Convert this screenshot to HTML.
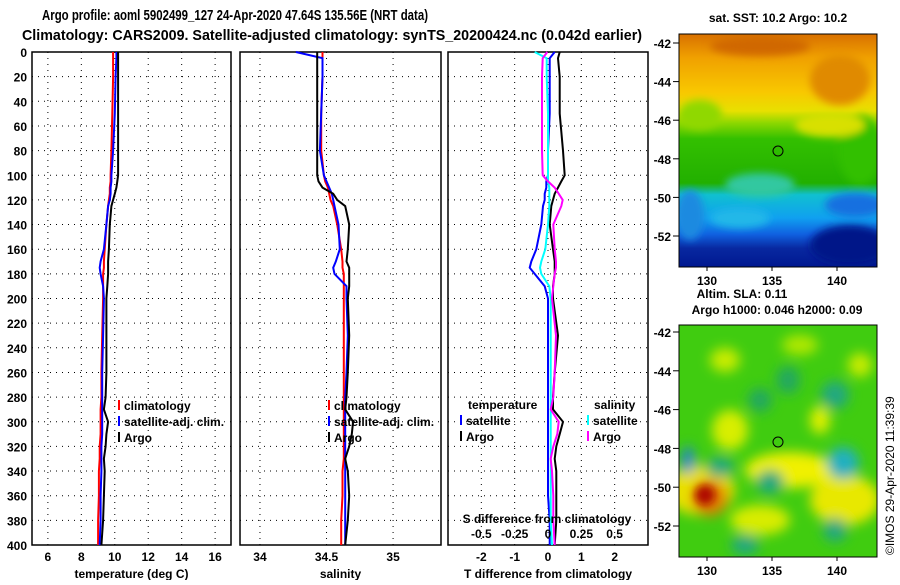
<!DOCTYPE html>
<html><head><meta charset="utf-8"><style>
body{margin:0;background:#fff;}
svg text{font-family:"Liberation Sans",sans-serif;font-weight:bold;fill:#000;}
</style></head><body>
<svg id="root" width="900" height="580" xmlns="http://www.w3.org/2000/svg">
<defs>
<filter id="bl" x="-50%" y="-50%" width="200%" height="200%"><feGaussianBlur stdDeviation="6"/></filter>
<filter id="bl2" x="-50%" y="-50%" width="200%" height="200%"><feGaussianBlur stdDeviation="4"/></filter>
<clipPath id="c1"><rect x="679" y="34" width="198" height="233"/></clipPath>
<clipPath id="c2"><rect x="679" y="325" width="198" height="232"/></clipPath>
<linearGradient id="sstg" x1="0" y1="0" x2="0" y2="1">
<stop offset="0" stop-color="#d87000"/><stop offset="0.1" stop-color="#f0a000"/><stop offset="0.25" stop-color="#f8c800"/>
<stop offset="0.33" stop-color="#e8e000"/><stop offset="0.38" stop-color="#90d800"/><stop offset="0.45" stop-color="#33c000"/>
<stop offset="0.64" stop-color="#22b000"/><stop offset="0.69" stop-color="#10c0d0"/><stop offset="0.79" stop-color="#10a0f0"/>
<stop offset="0.86" stop-color="#1060e0"/><stop offset="0.92" stop-color="#0828a0"/><stop offset="1" stop-color="#001890"/>
</linearGradient>
</defs>
<text x="42" y="20" font-size="15" textLength="386" lengthAdjust="spacingAndGlyphs">Argo profile: aoml 5902499_127 24-Apr-2020 47.64S 135.56E (NRT data)</text>
<text x="22" y="40" font-size="15" textLength="620" lengthAdjust="spacingAndGlyphs">Climatology: CARS2009. Satellite-adjusted climatology: synTS_20200424.nc (0.042d earlier)</text>
<g id="plots"></g>
<!-- SST map -->
<g clip-path="url(#c1)">
<rect x="679" y="34" width="198" height="233" fill="url(#sstg)"/>
<g filter="url(#bl2)">
<ellipse cx="840" cy="80" rx="30" ry="25" fill="#e08a00"/>
<ellipse cx="760" cy="46" rx="50" ry="10" fill="#d06800"/>
<ellipse cx="860" cy="150" rx="22" ry="35" fill="#30c000"/>
<ellipse cx="700" cy="115" rx="22" ry="15" fill="#90d800"/>
<ellipse cx="830" cy="125" rx="35" ry="12" fill="#d8e000"/>
<ellipse cx="760" cy="185" rx="35" ry="12" fill="#30c8a0"/>
<ellipse cx="855" cy="205" rx="30" ry="12" fill="#1870e0"/>
<ellipse cx="690" cy="215" rx="14" ry="25" fill="#1a8ae0"/>
<ellipse cx="740" cy="218" rx="30" ry="10" fill="#20b8e8"/>
<ellipse cx="850" cy="245" rx="40" ry="20" fill="#001888"/>
</g>
</g>
<rect x="679" y="34" width="198" height="233" fill="none" stroke="#000"/>
<circle cx="778" cy="151" r="5" fill="none" stroke="#000"/>
<text x="778" y="22" font-size="12" text-anchor="middle">sat. SST: 10.2 Argo: 10.2</text>
<!-- SLA map -->
<g clip-path="url(#c2)">
<rect x="679" y="325" width="198" height="232" fill="#40cc10"/>
<g filter="url(#bl)">
<ellipse cx="725" cy="360" rx="15" ry="12" fill="#c8ec00"/>
<ellipse cx="800" cy="345" rx="18" ry="10" fill="#b0e800"/>
<ellipse cx="860" cy="365" rx="12" ry="12" fill="#c8ec00"/>
<ellipse cx="730" cy="430" rx="18" ry="20" fill="#d8ee00"/>
<ellipse cx="820" cy="420" rx="10" ry="14" fill="#e0f000"/>
<ellipse cx="790" cy="470" rx="45" ry="18" fill="#f0f000"/>
<ellipse cx="845" cy="500" rx="35" ry="25" fill="#e8e800"/>
<ellipse cx="700" cy="490" rx="35" ry="25" fill="#e8e000"/>
<ellipse cx="760" cy="520" rx="30" ry="15" fill="#d8ec00"/>
<ellipse cx="760" cy="400" rx="12" ry="12" fill="#20a860"/>
<ellipse cx="788" cy="380" rx="12" ry="14" fill="#20a860"/>
<ellipse cx="835" cy="395" rx="14" ry="14" fill="#20a880"/>
<ellipse cx="843" cy="463" rx="16" ry="16" fill="#20b0c0"/>
<ellipse cx="770" cy="482" rx="14" ry="12" fill="#20a880"/>
<ellipse cx="720" cy="467" rx="14" ry="10" fill="#20a880"/>
<ellipse cx="835" cy="530" rx="12" ry="12" fill="#20a880"/>
<ellipse cx="745" cy="545" rx="14" ry="10" fill="#20a880"/>
<ellipse cx="688" cy="460" rx="6" ry="14" fill="#2080e0"/>
<ellipse cx="710" cy="498" rx="18" ry="18" fill="#e08000"/>
</g>
<ellipse cx="705" cy="495" rx="10" ry="10" fill="#b01000" filter="url(#bl2)"/>
</g>
<rect x="679" y="325" width="198" height="232" fill="none" stroke="#000"/>
<circle cx="778" cy="442" r="5" fill="#40cc10" stroke="#000"/>
<text x="742" y="298" font-size="12" text-anchor="middle">Altim. SLA: 0.11</text>
<text x="777" y="314" font-size="12" text-anchor="middle">Argo h1000: 0.046 h2000: 0.09</text>
<text x="894" y="555" font-size="12" transform="rotate(-90 894 555)" style="font-weight:normal">©IMOS 29-Apr-2020 11:39:39</text>
<g id="maps"></g>
</svg>
<script>
const NS='http://www.w3.org/2000/svg';
const root=document.getElementById('plots');
function mk(tag,attrs,parent){const e=document.createElementNS(NS,tag);for(const k in attrs)e.setAttribute(k,attrs[k]);(parent||root).appendChild(e);return e;}
function txt(x,y,s,anchor,size,parent){const t=mk('text',{x:x,y:y,'font-size':size||12,'text-anchor':anchor||'middle'},parent);t.textContent=s;return t;}

// depth levels (m)
const depths=[0,5,20,50,80,100,105,110,115,120,125,140,160,170,175,180,190,200,230,260,280,290,300,310,320,330,340,360,380,400];
// temperature (deg C)
const tempClim=[9.9,9.9,9.9,9.85,9.8,9.75,9.75,9.7,9.7,9.65,9.6,9.5,9.4,9.35,9.35,9.3,9.3,9.3,9.25,9.2,9.2,9.15,9.15,9.15,9.1,9.1,9.05,9.05,9.0,9.0];
const tempSat=[10.1,10.1,10.05,10.0,9.9,9.8,9.8,9.75,9.75,9.7,9.6,9.5,9.35,9.15,9.1,9.15,9.3,9.35,9.3,9.25,9.25,9.25,9.25,9.25,9.2,9.2,9.2,9.15,9.15,9.1];
const tempArgo=[10.2,10.2,10.2,10.2,10.2,10.2,10.15,10.1,10.0,9.9,9.8,9.7,9.65,9.6,9.6,9.6,9.55,9.5,9.5,9.5,9.45,9.35,9.6,9.5,9.45,9.35,9.4,9.35,9.3,9.2];
// salinity
const salClim=[34.47,34.47,34.47,34.46,34.46,34.48,34.49,34.51,34.52,34.53,34.55,34.58,34.61,34.62,34.62,34.63,34.63,34.63,34.63,34.63,34.63,34.63,34.63,34.63,34.63,34.63,34.62,34.62,34.61,34.61];
const salSat=[34.27,34.47,34.47,34.46,34.45,34.48,34.50,34.52,34.54,34.55,34.56,34.59,34.60,34.57,34.55,34.56,34.65,34.65,34.66,34.65,34.64,34.64,34.64,34.64,34.64,34.64,34.64,34.64,34.64,34.64];
const salArgo=[34.43,34.43,34.43,34.43,34.43,34.43,34.44,34.47,34.55,34.58,34.64,34.67,34.66,34.65,34.67,34.67,34.67,34.66,34.67,34.66,34.65,34.64,34.70,34.69,34.67,34.64,34.66,34.67,34.66,34.64];
// differences from climatology
const tDiffSat=[0.2,0.05,0.05,0.05,0.0,0.0,-0.05,-0.05,-0.1,-0.1,-0.15,-0.2,-0.35,-0.5,-0.55,-0.4,-0.1,0.0,0.0,0.0,0.0,0.0,0.0,0.0,0.0,0.0,0.0,0.0,0.05,0.05];
const tDiffArgo=[0.35,0.3,0.35,0.35,0.45,0.5,0.4,0.3,0.2,0.15,0.1,0.05,0.15,0.2,0.2,0.2,0.15,0.15,0.3,0.2,0.15,0.15,0.45,0.35,0.25,0.2,0.25,0.25,0.25,0.2];
const sDiffSat=[-0.1,-0.01,-0.01,0.0,0.0,0.0,0.0,0.01,0.01,0.01,0.01,0.0,-0.02,-0.05,-0.06,-0.05,0.01,0.02,0.02,0.02,0.02,0.02,0.02,0.02,0.02,0.02,0.02,0.02,0.02,0.03];
const sDiffArgo=[-0.005,-0.04,-0.045,-0.045,-0.045,-0.04,0.0,0.05,0.08,0.11,0.1,0.04,0.05,0.06,0.06,0.05,0.04,0.03,0.06,0.05,0.04,0.02,0.08,0.07,0.04,0.02,0.03,0.04,0.04,0.05];

const Y0=52,Y1=545;
const yDepth=d=>Y0+d/400*(Y1-Y0);
function panel(name,x0,x1,vmin,vmax,ticks,tickLabels,title){
  const g=mk('g',{});
  
  
  const sx=v=>x0+(v-vmin)/(vmax-vmin)*(x1-x0);
  for(let d=20;d<400;d+=20)mk('line',{x1:x0,x2:x1,y1:yDepth(d),y2:yDepth(d),stroke:'#000','stroke-dasharray':'1,5'},g);
  ticks.forEach((t,i)=>{mk('line',{x1:sx(t),x2:sx(t),y1:Y0,y2:Y1,stroke:'#000','stroke-dasharray':'1,5'},g);
    const l=txt(sx(t),561,tickLabels[i],'middle',12,g);});
  mk('rect',{x:x0,y:Y0,width:x1-x0,height:Y1-Y0,fill:'none',stroke:'#000','stroke-width':1.5},g);
  const tt=txt((x0+x1)/2,578,title,'middle',12,g);
  return {g,sx};
}
function line(p,sx,vals,color,w,name){
  const pts=vals.map((v,i)=>sx(v).toFixed(1)+','+yDepth(depths[i]).toFixed(1)).join(' ');
  const pl=mk('polyline',{points:pts,fill:'none',stroke:color,'stroke-width':w},p.g);
  
  
}
for(let d=0;d<=400;d+=20){const t=txt(27,yDepth(d)+5,String(d),'end',12);}

const p1=panel('temperature-panel',32,231,5.05,16.95,[6,8,10,12,14,16],['6','8','10','12','14','16'],'temperature (deg C)');
line(p1,p1.sx,tempClim,'#f00',2,'temp-climatology-line');
line(p1,p1.sx,tempSat,'#00f',2,'temp-satellite-line');
line(p1,p1.sx,tempArgo,'#000',2,'temp-argo-line');

const p2=panel('salinity-panel',240,441,33.85,35.36,[34,34.5,35],['34','34.5','35'],'salinity');
line(p2,p2.sx,salClim,'#f00',2,'sal-climatology-line');
line(p2,p2.sx,salSat,'#00f',2,'sal-satellite-line');
line(p2,p2.sx,salArgo,'#000',2,'sal-argo-line');

const p3=panel('difference-panel',448,648,-3,3,[-2,-1,0,1,2],['-2','-1','0','1','2'],'T difference from climatology');
const sxS=v=>548+v*133.3;
line(p3,p3.sx,tDiffSat,'#00f',2,'tdiff-satellite-line');
line(p3,p3.sx,tDiffArgo,'#000',2,'tdiff-argo-line');
line(p3,sxS,sDiffSat,'#0ff',2,'sdiff-satellite-line');
line(p3,sxS,sDiffArgo,'#f0f',2,'sdiff-argo-line');
const sTicks=[-0.5,-0.25,0,0.25,0.5];
const sTickLabels=['-0.5','-0.25','0','0.25','0.5'];
sTicks.forEach((t,i)=>{const l=txt(sxS(t),538,sTickLabels[i],'middle',12);});
{const t=txt(547,523,'S difference from climatology','middle',12);}

function legend(x,y,color,label){
  const g=mk('g',{});
  
  
  mk('rect',{x:x,y:y-10,width:2,height:10,fill:color},g);
  txt(x+6,y,label,'start',12,g);
}
legend(118,410,'#f00','climatology');legend(118,426,'#00f','satellite-adj. clim.');legend(118,442,'#000','Argo');
legend(328,410,'#f00','climatology');legend(328,426,'#00f','satellite-adj. clim.');legend(328,442,'#000','Argo');
{const t=txt(468,409,'temperature','start',12);}
{const t=txt(594,409,'salinity','start',12);}
legend(460,425,'#00f','satellite');legend(460,441,'#000','Argo');
legend(587,425,'#0ff','satellite');legend(587,441,'#f0f','Argo');

const mg=document.getElementById('maps');
const lonTicks=[130,135,140];
const latTicks=[-42,-44,-46,-48,-50,-52];
function mapAxes(lat42,pxPerDeg,yBottom,name){
  const g=mk('g',{},mg);
  
  
  latTicks.forEach(l=>{const y=lat42+(-42-l)*pxPerDeg;mk('line',{x1:673,x2:679,y1:y,y2:y,stroke:'#000'},g);txt(671,y+5,String(l),'end',12,g);});
  lonTicks.forEach(l=>{const x=707+(l-130)*13;mk('line',{x1:x,x2:x,y1:yBottom,y2:yBottom+4,stroke:'#000'},g);txt(x,yBottom+18,String(l),'middle',12,g);});
}
mapAxes(43,19.3,267,'sst-map-axes');
mapAxes(332,19.4,557,'sla-map-axes');
</script>
</body></html>
